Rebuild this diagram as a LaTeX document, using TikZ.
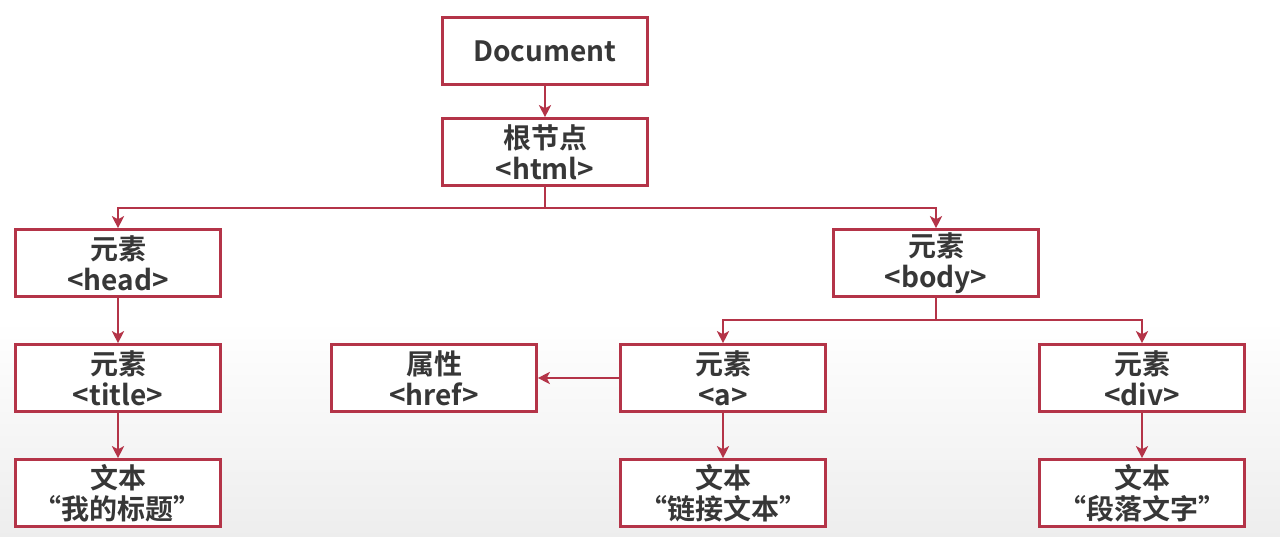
\documentclass[tikz,border=0pt]{standalone}
\usepackage{fontspec}
\setmainfont{Noto Sans CJK SC}[BoldFont={* Bold}]
\newfontfamily\cjkb{Noto Sans CJK SC Bold}
\usetikzlibrary{arrows.meta}
\definecolor{boxred}{RGB}{180,52,72}
\definecolor{txt}{RGB}{55,55,55}
\begin{document}
\begin{tikzpicture}[x=1pt,y=-1pt,
  box/.style={draw=boxred,line width=2.6pt,fill=white,minimum width=205pt,minimum height=67pt,
    align=center,inner sep=0pt,font=\cjkb\fontsize{28}{31}\selectfont,text=txt},
  conn/.style={draw=boxred,line width=2.2pt,-{Stealth[length=12pt,width=12pt,inset=3pt]}},
  seg/.style={draw=boxred,line width=2.2pt}]
\fill[white] (0,0) rectangle (1280,320);
\shade[top color=white,bottom color=black!7] (0,320) rectangle (1280,537);
\useasboundingbox (0,0) rectangle (1280,537);
\node[box] (doc) at (545,51) {Document};
\node[box] (root) at (545,152) {根节点\\<html>};
\node[box] (head) at (118,263) {元素\\<head>};
\node[box] (body) at (936,263) {元素\\<body>};
\node[box] (title) at (118,378) {元素\\<title>};
\node[box] (href) at (434,378) {属性\\<href>};
\node[box] (a) at (723,378) {元素\\<a>};
\node[box] (div) at (1142,378) {元素\\<div>};
\node[box] (t1) at (118,493) {文本\\“我的标题”};
\node[box] (t2) at (723,493) {文本\\“链接文本”};
\node[box] (t3) at (1142,493) {文本\\“段落文字”};
\coordinate (j1) at (545,208);
\coordinate (j2) at (936,320);
\draw[conn] (doc) -- (root);
\draw[seg] (root.south) -- (j1);
\draw[conn] (j1) -| (head.north);
\draw[conn] (j1) -| (body.north);
\draw[seg] (body.south) -- (j2);
\draw[conn] (j2) -| (a.north);
\draw[conn] (j2) -| (div.north);
\draw[conn] (a) -- (href);
\draw[conn] (head) -- (title);
\draw[conn] (title) -- (t1);
\draw[conn] (a) -- (t2);
\draw[conn] (div) -- (t3);
\end{tikzpicture}
\end{document}
